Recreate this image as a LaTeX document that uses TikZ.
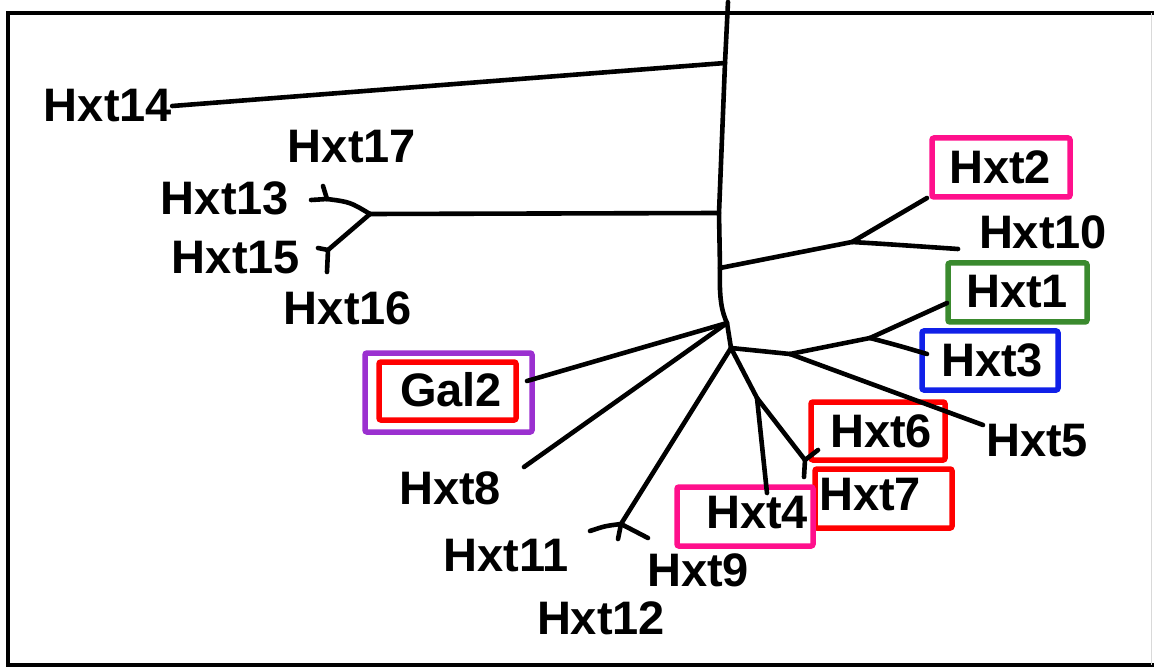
\documentclass[tikz,border=0pt]{standalone}
\usepackage{fontspec}
\setmainfont{Liberation Sans}
\definecolor{hpink}{RGB}{255,16,140}
\definecolor{hgreen}{RGB}{58,138,46}
\definecolor{hblue}{RGB}{16,32,232}
\definecolor{hred}{RGB}{255,0,0}
\definecolor{hpurple}{RGB}{155,48,208}
\begin{document}
\begin{tikzpicture}[x=1pt,y=-1pt,
  br/.style={line width=4.6pt, line cap=round, line join=round},
  lab/.style={font=\fontsize{47}{47}\selectfont\bfseries, inner sep=0pt, anchor=center},
  hbox/.style={draw, line width=5.5pt, rounded corners=2pt, inner sep=0pt}]
\useasboundingbox (0,0) rectangle (1154,668);
% frame
\draw[line width=4pt] (1154,13) -- (8,13) -- (8,665) -- (1154,665);
\draw[line width=1pt, black!15] (1151,13) -- (1151,665);
% highlight boxes
\node[hbox, draw=hpink, minimum width=138, minimum height=59] (b2) at (1001,167.5) {};
\node[hbox, draw=hgreen, minimum width=139, minimum height=59] (b1) at (1017.5,292.5) {};
\node[hbox, draw=hblue, minimum width=136, minimum height=59] (b3) at (990,360.5) {};
\node[hbox, draw=hred, minimum width=134, minimum height=58] (b6) at (878,431) {};
\node[hbox, draw=hred, minimum width=137, minimum height=59] (b7) at (883.5,498.5) {};
\node[hbox, draw=hpink, minimum width=136, minimum height=59] (b4) at (745,516.5) {};
\node[hbox, draw=hpurple, minimum width=167, minimum height=79] (bg2o) at (448.5,392.5) {};
\node[hbox, draw=hred, minimum width=137, minimum height=58] (bg2i) at (447.5,391) {};
% labels
\node[lab] (l14) at (108,106) {Hxt14};
\node[lab] (l17) at (352,147) {Hxt17};
\node[lab] (l13) at (225,198) {Hxt13};
\node[lab] (l15) at (236,258) {Hxt15};
\node[lab] (l16) at (348,308) {Hxt16};
\node[lab] (l2) at (1000,167) {Hxt2};
\node[lab] (l10) at (1043,232) {Hxt10};
\node[lab] (l1) at (1017,292) {Hxt1};
\node[lab] (l3) at (992,360) {Hxt3};
\node[lab] (l5) at (1037,441) {Hxt5};
\node[lab] (l6) at (881,431) {Hxt6};
\node[lab] (l7) at (870,495) {Hxt7};
\node[lab] (l4) at (757,513) {Hxt4};
\node[lab] (lg2) at (451,390) {Gal2};
\node[lab] (l8) at (450,488) {Hxt8};
\node[lab] (l11) at (506,556) {Hxt11};
\node[lab] (l9) at (698,570) {Hxt9};
\node[lab] (l12) at (601,618) {Hxt12};
% internal coordinates
\coordinate (top) at (728,2);
\coordinate (t1) at (725,63);
\coordinate (t2) at (719,213);
\coordinate (t3) at (720,268);
\coordinate (c1) at (727,323);
\coordinate (c2) at (731,348);
\coordinate (jA) at (370,214);
\coordinate (jA1) at (327,199);
\coordinate (jA2) at (328,250);
\coordinate (tip13) at (311,200);
\coordinate (tip17) at (323,186);
\coordinate (tip15) at (318,248);
\coordinate (tip16) at (327,272);
\coordinate (jB) at (852,242);
\coordinate (tip2) at (927,198);
\coordinate (tip10) at (958,249);
\coordinate (jC) at (790,354);
\coordinate (jC2) at (870,338);
\coordinate (tip1) at (947,303);
\coordinate (tip3) at (927,354);
\coordinate (tip5) at (983,425);
\coordinate (jD) at (757,398);
\coordinate (jD2) at (805,460);
\coordinate (tip4) at (767,493);
\coordinate (tip6) at (818,450);
\coordinate (tip7) at (804,477);
\coordinate (jE) at (621,524);
\coordinate (tip11) at (590,531);
\coordinate (tip9) at (648,538);
\coordinate (tip12) at (618,539);
\coordinate (tipg2) at (527,381);
\coordinate (tip8) at (524,467);
% trunk
\draw[br] (top) -- (t1) -- (t2) -- (t3) .. controls (719,300) and (722,312) .. (c1) -- (c2);
% Hxt14
\draw[br] (t1) -- (l14.east);
% Hxt13/15/16/17 clade
\draw[br] (t2) -- (jA);
\draw[br] (jA) .. controls (350,202) .. (jA1);
\draw[br] (tip13) -- (jA1);
\draw[br] (tip17) .. controls (325,192) .. (jA1);
\draw[br] (jA) -- (jA2);
\draw[br] (tip15) -- (jA2);
\draw[br] (jA2) -- (tip16);
% Hxt2/10 clade
\draw[br] (t3) -- (jB);
\draw[br] (jB) -- (tip2);
\draw[br] (jB) .. controls (885,244) .. (tip10);
% Hxt1/3/5 clade
\draw[br] (c2) -- (jC);
\draw[br] (jC) -- (tip5);
\draw[br] (jC) -- (jC2);
\draw[br] (jC2) -- (tip1);
\draw[br] (jC2) .. controls (900,346) .. (tip3);
% Hxt4/6/7 clade
\draw[br] (c2) -- (jD);
\draw[br] (jD) -- (tip4);
\draw[br] (jD) -- (jD2);
\draw[br] (jD2) -- (tip6);
\draw[br] (jD2) -- (tip7);
% Hxt11/9/12 clade
\draw[br] (c2) -- (jE);
\draw[br] (tip11) .. controls (605,526) .. (jE);
\draw[br] (jE) -- (tip9);
\draw[br] (jE) -- (tip12);
% Gal2, Hxt8
\draw[br] (c1) -- (tipg2);
\draw[br] (c1) -- (tip8);
\end{tikzpicture}
\end{document}
